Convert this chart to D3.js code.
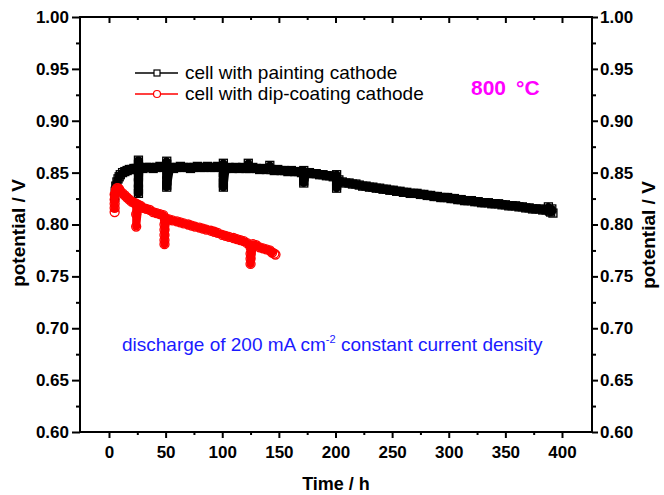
<!DOCTYPE html>
<html><head><meta charset="utf-8">
<script src="https://cdn.jsdelivr.net/npm/d3@7"></script>
<style>
body{margin:0;background:#fff}
svg{display:block}
text{font-family:"Liberation Sans",Arial,Helvetica,sans-serif}
</style>
</head><body>
<svg id="chart" width="664" height="495"></svg>
<script>
// ---------- data ----------
const seriesNames = ["cell with painting cathode", "cell with dip-coating cathode"];
const xTicks = [0, 50, 100, 150, 200, 250, 300, 350, 400];
const xMinorTicks = [25, 75, 125, 175, 225, 275, 325, 375];
const yTicks = [0.60, 0.65, 0.70, 0.75, 0.80, 0.85, 0.90, 0.95, 1.00];
const yMinorTicks = [0.625, 0.675, 0.725, 0.775, 0.825, 0.875, 0.925, 0.975];
const tempLabel = ["800", "°C"];
const noteLabel = ["discharge of 200 mA cm", "-2", " constant current density"];

// [time (h), potential (V)] – cell with painting cathode
const paintData = [
  [5,0.826],[5.5,0.832],[6,0.837],[7,0.841],[8,0.844],[9,0.846],[10,0.848],[12,0.850],[14,0.851],
  [16,0.852],[18,0.853],[20,0.853],[22,0.854],[24,0.854],
  [26,0.858],[26,0.862],[26,0.846],[26,0.840],[26,0.834],[26,0.830],
  [27,0.855],[30,0.854],[33,0.855],[36,0.855],[39,0.854],[42,0.855],[45,0.856],[48,0.855],
  [51,0.861],[51,0.858],[51,0.848],[51,0.842],[51,0.838],[51,0.836],
  [54,0.855],[57,0.854],[60,0.855],[63,0.856],[66,0.855],[69,0.855],[72,0.854],[75,0.855],
  [78,0.856],[81,0.855],[84,0.855],[87,0.856],[90,0.855],[93,0.855],[96,0.856],[99,0.855],
  [101,0.859],[101,0.850],[101,0.845],[101,0.840],[101,0.836],
  [103,0.854],[106,0.855],[109,0.854],[112,0.855],[115,0.854],[118,0.855],[121,0.854],
  [123,0.859],[124,0.854],[127,0.855],[130,0.854],[133,0.853],[136,0.854],[139,0.853],
  [142,0.857],[143,0.853],[146,0.852],[149,0.853],[152,0.852],[155,0.852],[158,0.851],
  [161,0.852],[164,0.851],[167,0.851],[170,0.850],
  [172,0.852],[172,0.846],[172,0.842],[172,0.840],
  [174,0.850],[177,0.850],[180,0.849],[183,0.849],[186,0.848],[189,0.848],[192,0.847],
  [195,0.847],[198,0.846],
  [201,0.848],[201,0.842],[201,0.838],[201,0.835],
  [203,0.843],[206,0.841],[209,0.840],[212,0.840],[215,0.839],[218,0.839],[221,0.838],
  [224,0.837],[227,0.837],[230,0.836],[233,0.836],[236,0.835],[239,0.835],[242,0.834],
  [245,0.834],[248,0.833],[251,0.833],[254,0.832],[257,0.832],[260,0.831],[263,0.831],
  [266,0.830],[269,0.830],[272,0.830],[275,0.829],[278,0.829],[281,0.828],[284,0.828],
  [287,0.827],[290,0.827],[293,0.826],[296,0.826],[299,0.826],[302,0.825],[305,0.825],
  [308,0.824],[311,0.824],[314,0.823],[317,0.823],[320,0.823],[323,0.822],[326,0.822],
  [329,0.821],[332,0.821],[335,0.821],[338,0.820],[341,0.820],[344,0.820],[347,0.819],
  [350,0.819],[353,0.818],[356,0.818],[359,0.818],[362,0.817],[365,0.817],[368,0.816],
  [371,0.816],[374,0.815],[377,0.815],[380,0.815],[383,0.814],[386,0.814],[388,0.817],
  [389,0.813],[390,0.812],[391,0.815],[392,0.811]
];

// [time (h), potential (V)] – cell with dip-coating cathode
const dipData = [
  [5,0.812],[5,0.816],[5,0.820],[5,0.824],[5,0.829],[6,0.833],[7,0.835],[8,0.835],[9,0.834],
  [10,0.832],[12,0.830],[14,0.828],[16,0.826],[18,0.824],[20,0.822],[22,0.821],
  [24,0.820],[24,0.810],[24,0.798],
  [26,0.819],[28,0.818],[30,0.816],[33,0.815],[36,0.814],[39,0.812],[42,0.811],[45,0.810],[48,0.809],
  [49,0.800],[49,0.795],[49,0.790],[49,0.785],[49,0.781],
  [50,0.806],[53,0.805],[56,0.804],[60,0.803],[63,0.802],[66,0.801],[70,0.800],[73,0.799],
  [76,0.798],[80,0.797],[83,0.796],[86,0.795],[90,0.794],[93,0.793],[96,0.792],[100,0.790],
  [103,0.789],[106,0.788],[110,0.787],[113,0.786],[116,0.785],[119,0.784],[122,0.782],
  [125,0.778],[125,0.772],[125,0.767],[125,0.762],
  [127,0.781],[130,0.780],[133,0.778],[136,0.777],[139,0.776],[142,0.775],[144,0.773],
  [146,0.772],[147,0.771]
];

// ---------- chart ----------
const svg = d3.select("#chart");
const pL = 80, pR = 592, pT = 17, pB = 432;
const x = d3.scaleLinear().domain([-25.6, 426.5]).range([pL, pR]);
const y = d3.scaleLinear().domain([0.6, 1.0]).range([pB, pT]);

svg.append("defs").append("clipPath").attr("id", "plotClip")
  .append("rect").attr("x", pL).attr("y", pT).attr("width", pR - pL).attr("height", pB - pT);

const plot = svg.append("g").attr("clip-path", "url(#plotClip)");
const line = d3.line().x(d => x(d[0])).y(d => y(d[1]));

// painting cathode (black squares)
plot.append("path").datum(paintData).attr("d", line)
  .attr("fill", "none").attr("stroke", "#000").attr("stroke-width", 8).attr("stroke-linejoin", "round");
plot.append("g").selectAll("rect").data(paintData).join("rect")
  .attr("x", d => x(d[0]) - 4).attr("y", d => y(d[1]) - 4)
  .attr("width", 8).attr("height", 8)
  .attr("fill", "none").attr("stroke", "#000").attr("stroke-width", 1.3);

// dip-coating cathode (red circles)
plot.append("path").datum(dipData).attr("d", line)
  .attr("fill", "none").attr("stroke", "#ff0000").attr("stroke-width", 8).attr("stroke-linejoin", "round");
plot.append("g").selectAll("circle").data(dipData).join("circle")
  .attr("cx", d => x(d[0])).attr("cy", d => y(d[1])).attr("r", 4.5)
  .attr("fill", "none").attr("stroke", "#ff0000").attr("stroke-width", 1.3);

// ---------- axes ----------
function styleAxis(g, fontSize) {
  g.select(".domain").remove();
  g.selectAll(".tick line").attr("stroke", "#000").attr("stroke-width", 2);
  g.selectAll("text").attr("font-size", fontSize).attr("font-weight", "bold").attr("fill", "#000")
    .attr("font-family", '"Liberation Sans",Arial,sans-serif');
}
const fmtX = d3.format("d"), fmtY = d3.format(".2f");

svg.append("g").attr("transform", `translate(0,${pB})`)
  .call(d3.axisBottom(x).tickValues(xTicks).tickSize(6).tickPadding(8).tickFormat(fmtX))
  .call(g => styleAxis(g, 17));
svg.append("g").attr("transform", `translate(0,${pB})`)
  .call(d3.axisBottom(x).tickValues(xMinorTicks).tickSize(3).tickFormat(""))
  .call(g => styleAxis(g, 17));

svg.append("g").attr("transform", `translate(0,${pT})`)
  .call(d3.axisTop(x).tickValues(xTicks).tickSize(-6).tickFormat(""))
  .call(g => styleAxis(g, 17));
svg.append("g").attr("transform", `translate(0,${pT})`)
  .call(d3.axisTop(x).tickValues(xMinorTicks).tickSize(-3).tickFormat(""))
  .call(g => styleAxis(g, 17));

svg.append("g").attr("transform", `translate(${pL},0)`)
  .call(d3.axisLeft(y).tickValues(yTicks).tickSize(8).tickPadding(3).tickFormat(fmtY))
  .call(g => styleAxis(g, 17));
svg.append("g").attr("transform", `translate(${pL},0)`)
  .call(d3.axisLeft(y).tickValues(yMinorTicks).tickSize(4).tickFormat(""))
  .call(g => styleAxis(g, 17));

svg.append("g").attr("transform", `translate(${pR},0)`)
  .call(d3.axisRight(y).tickValues(yTicks).tickSize(6).tickPadding(2).tickFormat(fmtY))
  .call(g => styleAxis(g, 17));
svg.append("g").attr("transform", `translate(${pR},0)`)
  .call(d3.axisRight(y).tickValues(yMinorTicks).tickSize(4).tickFormat(""))
  .call(g => styleAxis(g, 17));

// frame
svg.append("rect").attr("x", pL).attr("y", pT).attr("width", pR - pL).attr("height", pB - pT)
  .attr("fill", "none").attr("stroke", "#000").attr("stroke-width", 2);

// axis titles
svg.append("text").attr("x", 336).attr("y", 490).attr("text-anchor", "middle")
  .attr("font-size", 18).attr("font-weight", "bold").text("Time / h");
svg.append("text").attr("transform", "translate(25,233) rotate(-90)").attr("text-anchor", "middle")
  .attr("font-size", 19).attr("font-weight", "bold").text("potential / V");
svg.append("text").attr("transform", "translate(655,235) rotate(-90)").attr("text-anchor", "middle")
  .attr("font-size", 19).attr("font-weight", "bold").text("potential / V");

// legend
const legendRows = [
  {name: seriesNames[0], color: "#000", shape: "square", yy: 73},
  {name: seriesNames[1], color: "#ff0000", shape: "circle", yy: 94}
];
const lg = svg.append("g");
legendRows.forEach(r => {
  lg.append("line").attr("x1", 135).attr("x2", 178).attr("y1", r.yy).attr("y2", r.yy)
    .attr("stroke", r.color).attr("stroke-width", 1.3);
  if (r.shape === "square") {
    lg.append("rect").attr("x", 157 - 3).attr("y", r.yy - 3).attr("width", 6).attr("height", 6)
      .attr("fill", "#fff").attr("stroke", r.color).attr("stroke-width", 1.2);
  } else {
    lg.append("circle").attr("cx", 157).attr("cy", r.yy).attr("r", 3.5)
      .attr("fill", "#fff").attr("stroke", r.color).attr("stroke-width", 1.2);
  }
  lg.append("text").attr("x", 185).attr("y", r.yy + 6).attr("font-size", 19).attr("fill", "#000").text(r.name);
});

// annotations
const temp = svg.append("text").attr("y", 95).attr("font-size", 21).attr("font-weight", "bold")
  .attr("fill", "#ff00ff");
temp.append("tspan").attr("x", 471).text(tempLabel[0]);
temp.append("tspan").attr("x", 516).text(tempLabel[1]);

const note = svg.append("text").attr("x", 122).attr("y", 351).attr("font-size", 19).attr("fill", "#1a1aff");
note.append("tspan").text(noteLabel[0]);
note.append("tspan").attr("dy", -8).attr("font-size", 11).text(noteLabel[1]);
note.append("tspan").attr("dy", 8).text(noteLabel[2]);
</script>
</body></html>
